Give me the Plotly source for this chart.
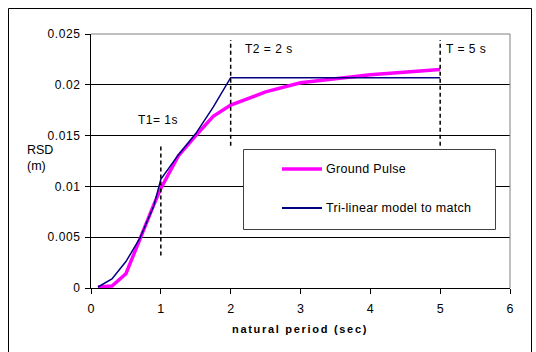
import plotly.graph_objects as go

# Response spectrum of the ground pulse and the fitted tri-linear model
period_pulse = [0.1, 0.3, 0.5, 0.7, 0.9, 1.0, 1.25, 1.5, 1.75, 2.0, 2.5, 3.0, 4.0, 5.0]
rsd_pulse = [0.0001, 0.0002, 0.0014, 0.0049, 0.0082, 0.0098, 0.0130, 0.0150,
             0.0169, 0.0180, 0.0193, 0.0202, 0.0210, 0.0215]

period_model = [0.1, 0.3, 0.5, 0.7, 0.9, 1.0, 1.25, 1.5, 1.75, 2.0, 5.0]
rsd_model = [0.0001, 0.0009, 0.0026, 0.0049, 0.0081, 0.0107, 0.0131, 0.0152,
             0.0178, 0.0207, 0.0207]

series_names = ["Ground Pulse", "Tri-linear model to match"]

# Corner periods marked with dashed lines: (period, low, high, label)
markers = [(1, 0.0032, 0.0141, "T1= 1s"),
           (2, 0.0140, 0.0244, "T2 = 2 s"),
           (5, 0.0140, 0.0244, "T = 5 s")]

x_ticks = [0, 1, 2, 3, 4, 5, 6]
y_ticks = [0, 0.005, 0.01, 0.015, 0.02, 0.025]
y_tick_text = ["0", "0.005", "0.01", "0.015", "0.02", "0.025"]

W, H = 536, 352
ML, MR, MT, MB = 91, 26, 34, 64
PW, PH = W - ML - MR, H - MT - MB


def px(p):
    return (p - ML) / PW


def py(q):
    return (H - MB - q) / PH


def spaced(s, gap=0.5):
    return "<span style='letter-spacing:%spx'>%s</span>" % (gap, s)


FONT = "Liberation Sans, Arial, sans-serif"
PINK = "#FF00FF"
NAVY = "#000080"

fig = go.Figure()
fig.add_trace(go.Scatter(x=period_pulse, y=rsd_pulse, mode="lines", name=series_names[0],
                         line=dict(color=PINK, width=3.5)))
fig.add_trace(go.Scatter(x=period_model, y=rsd_model, mode="lines", name=series_names[1],
                         line=dict(color=NAVY, width=1.5)))

shapes = []
annotations = []
for t, lo, hi, label in markers:
    shapes.append(dict(type="line", xref="x", yref="y", x0=t, x1=t, y0=lo, y1=hi,
                       line=dict(color="black", width=1.5, dash="4px,3px")))

annotations.append(dict(x=1, y=0.0165, xref="x", yref="y", text=spaced(markers[0][3]),
                        showarrow=False, xanchor="center", yanchor="middle",
                        xshift=-3, font=dict(size=12)))
annotations.append(dict(x=2, y=0.0235, xref="x", yref="y", text=spaced(markers[1][3]),
                        showarrow=False, xanchor="left", yanchor="middle",
                        xshift=12, font=dict(size=12)))
annotations.append(dict(x=5, y=0.0235, xref="x", yref="y", text=spaced(markers[2][3]),
                        showarrow=False, xanchor="left", yanchor="middle",
                        xshift=4, font=dict(size=12)))

# Plot-area frame on the top and right sides
shapes.append(dict(type="line", xref="paper", yref="paper", x0=0, x1=1, y0=1, y1=1,
                   line=dict(color="#808080", width=1)))
shapes.append(dict(type="line", xref="paper", yref="paper", x0=1, x1=1, y0=0, y1=1,
                   line=dict(color="#808080", width=1)))

# Outer chart border
shapes.append(dict(type="rect", xref="paper", yref="paper",
                   x0=px(8.5), x1=px(531.5), y0=py(362), y1=py(8.5),
                   line=dict(color="black", width=1)))

# Legend box
shapes.append(dict(type="rect", xref="paper", yref="paper",
                   x0=px(243.5), x1=px(495.5), y0=py(229.5), y1=py(149.5),
                   fillcolor="white", line=dict(color="#404040", width=1)))
for name, color, width, yy in [(series_names[0], PINK, 3.5, 169),
                               (series_names[1], NAVY, 1.8, 208)]:
    shapes.append(dict(type="line", xref="paper", yref="paper",
                       x0=px(282), x1=px(322), y0=py(yy), y1=py(yy),
                       line=dict(color=color, width=width)))
    annotations.append(dict(x=px(324), y=py(yy), xref="paper", yref="paper",
                            text=spaced(name, 0.3),
                            showarrow=False, xanchor="left", yanchor="middle",
                            font=dict(size=12.5)))

# Axis titles
annotations.append(dict(x=px(25), y=py(158), xref="paper", yref="paper",
                        text="RSD<br>(m)", align="left", showarrow=False,
                        xanchor="left", yanchor="middle", font=dict(size=12.5)))
annotations.append(dict(x=px(300), y=py(329), xref="paper", yref="paper",
                        text="<b>" + spaced("natural period (sec)", 1.7) + "</b>",
                        showarrow=False, xanchor="center", yanchor="middle",
                        font=dict(size=11)))

fig.update_layout(
    width=W, height=H,
    margin=dict(l=ML, r=MR, t=MT, b=MB),
    paper_bgcolor="white", plot_bgcolor="white",
    showlegend=False,
    font=dict(family=FONT, size=12, color="black"),
    shapes=shapes, annotations=annotations,
    xaxis=dict(range=[0, 6], tickvals=x_ticks, showgrid=False, zeroline=False,
               showline=True, linecolor="black", linewidth=1,
               ticks="outside", ticklen=5, tickcolor="black",
               tickfont=dict(size=12.5), ticklabelstandoff=4),
    yaxis=dict(range=[0, 0.025], tickvals=y_ticks,
               ticktext=[spaced(t, 0.6) for t in y_tick_text],
               showgrid=True, gridcolor="black", gridwidth=1, zeroline=False,
               showline=True, linecolor="black", linewidth=1,
               ticks="outside", ticklen=5, tickcolor="black",
               tickfont=dict(size=12), ticklabelstandoff=2),
)

fig.write_html("out.html")
